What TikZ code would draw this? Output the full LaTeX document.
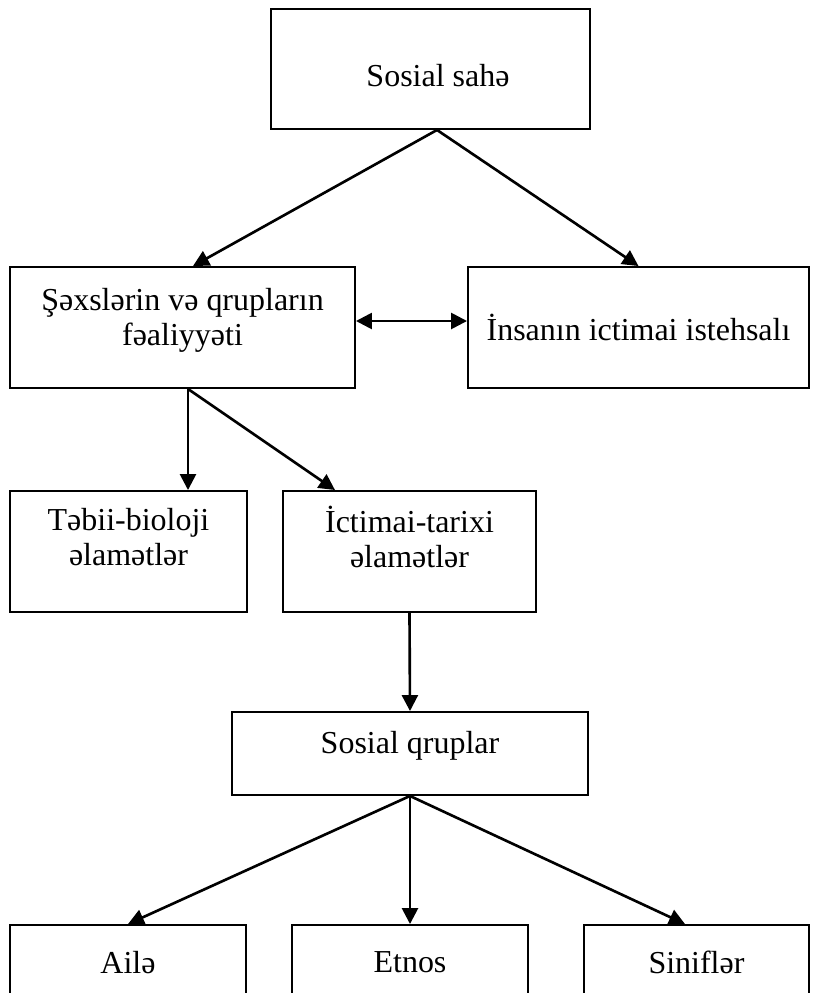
\documentclass[tikz,border=0pt]{standalone}
\usepackage{fontspec}
\setmainfont{Liberation Serif}
\usetikzlibrary{positioning,arrows.meta}
\newcommand{\diafont}{\fontsize{18.2}{20}\selectfont}
\tikzset{
  blk/.style={draw=black,line width=1.1pt,rectangle,inner sep=0pt,
              align=center,font=\diafont},
  lift/.style={text depth=#1},
  drop/.style={text height=#1},
  arr/.style={-{Triangle[length=0.32cm,width=0.32cm]},line width=1.5pt},
  dblarr/.style={{Triangle[length=0.32cm,width=0.32cm]}-{Triangle[length=0.32cm,width=0.32cm]},
                 line width=1.5pt},
}
\begin{document}
\begin{tikzpicture}
  \useasboundingbox (0,0) rectangle (16.24,-19.86);
  \node[blk,drop=0.72cm,minimum width=6.38cm,minimum height=2.4cm] (sahe) at (8.61,-1.38)
    {\hspace*{0.3cm}Sosial sahə};
  \node[blk,lift=0.44cm,minimum width=6.9cm,minimum height=2.42cm] (sexs) at (3.65,-6.55)
    {Şəxslərin və qrupların\\fəaliyyəti};
  \node[blk,minimum width=6.82cm,minimum height=2.42cm] (insan) at (12.77,-6.55)
    {İnsanın ictimai istehsalı};
  \node[blk,lift=0.6cm,minimum width=4.74cm,minimum height=2.42cm] (tebii) at (2.57,-11.03)
    {Təbii-bioloji\\əlamətlər};
  \node[blk,lift=0.6cm,minimum width=5.06cm,minimum height=2.42cm] (ictimai) at (8.19,-11.03)
    {İctimai-tarixi\\əlamətlər};
  \node[blk,lift=0.46cm,minimum width=7.12cm,minimum height=1.66cm] (qrup) at (8.2,-15.07)
    {Sosial qruplar};
  \node[blk,minimum width=4.72cm,minimum height=1.5cm] (aile) at (2.56,-19.25) {Ailə};
  \node[blk,minimum width=4.72cm,minimum height=1.5cm] (etnos) at (8.2,-19.25) {Etnos};
  \node[blk,minimum width=4.5cm,minimum height=1.5cm] (sinif) at (13.93,-19.25) {Siniflər};
  % arrows
  \coordinate (top) at ([xshift=0.13cm]sahe.south);
  \draw[arr] (top) -- ([xshift=0.21cm]sexs.north);
  \draw[arr] (top) -- (insan.north);
  \draw[dblarr] ([yshift=0.13cm]sexs.east) -- ([yshift=0.13cm]insan.west);
  \coordinate (split) at ([xshift=0.11cm]sexs.south);
  \draw[arr] (split) -- (split |- tebii.north);
  \draw[arr] (split) -- ([xshift=-1.49cm]ictimai.north);
  \draw[arr] (ictimai.south) -- (qrup.north);
  \draw[arr] (qrup.south) -- (aile.north);
  \draw[arr] (qrup.south) -- (etnos.north);
  \draw[arr] (qrup.south) -- ([xshift=-0.23cm]sinif.north);
\end{tikzpicture}
\end{document}
